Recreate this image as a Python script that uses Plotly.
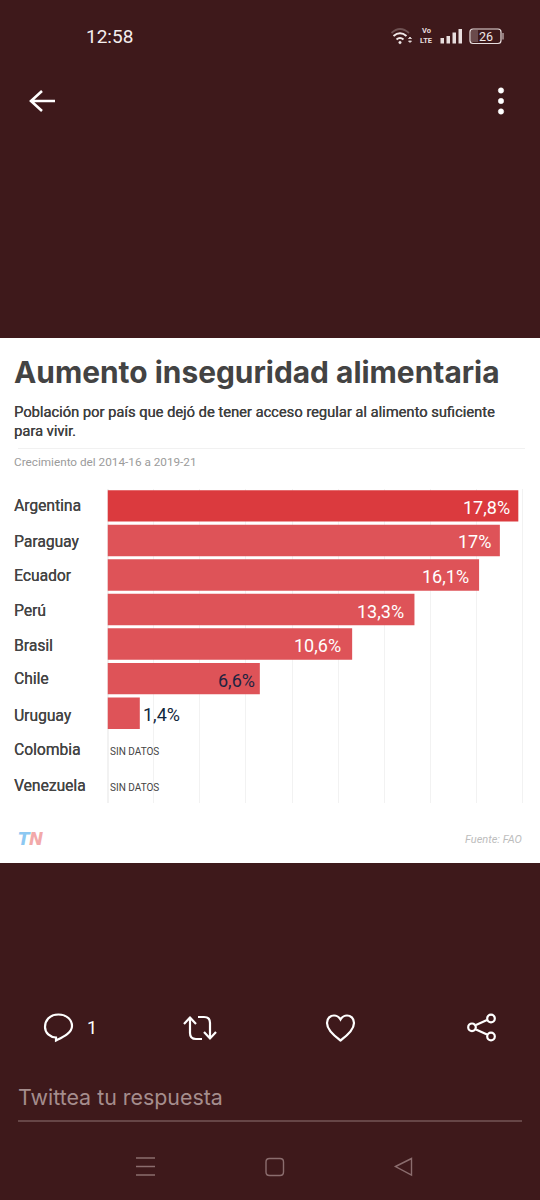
import plotly.graph_objects as go

countries = ['Argentina', 'Paraguay', 'Ecuador', 'Perú', 'Brasil', 'Chile', 'Uruguay', 'Colombia', 'Venezuela']
values = [17.8, 17, 16.1, 13.3, 10.6, 6.6, 1.4, None, None]
value_labels = ['17,8%', '17%', '16,1%', '13,3%', '10,6%', '6,6%', '1,4%', 'SIN DATOS', 'SIN DATOS']
bar_colors = ['#db3a3e', '#de5358', '#de5358', '#de5358', '#de5358', '#de5358', '#de5358', '#de5358', '#de5358']
label_colors = ['#ffffff', '#ffffff', '#ffffff', '#ffffff', '#ffffff', '#1d2340', '#10263c', '#444444', '#444444']

# small per-row offsets, the labels in the original don't sit exactly on the bar centres
label_dx = [-6.5, -6.5, -8, -8, -9, -3, 1, 0, 0]
label_dy = [1.5, 1.5, 1.5, 1.5, 1.5, 1.5, 1.5, 4, 5.5]
name_dy = [0.5, 1.5, 1.5, 1.5, 2, 0.5, 3, 2.5, 3.5]

BG = '#3e191b'
W, H = 540, 1200
X0_PX, PX_PER_UNIT = 107.5, 23.08

fig = go.Figure()

# bars on the second axis pair so they get drawn over the white card
fig.add_trace(go.Bar(y=countries, x=values, orientation='h', marker=dict(color=bar_colors, line_width=0),
                     xaxis='x2', yaxis='y2', width=0.91, hoverinfo='skip'))

shapes = []
notes = []


def text(x, y, s, size, color, anchor='left', family='Roboto', weight=400, style='normal', shadow=None):
    # annotations keep 2px of padding around the text
    if anchor == 'left':
        x -= 2
    elif anchor == 'right':
        x += 2
    notes.append(dict(x=x, y=y, xref='x', yref='y', text=s, showarrow=False, xanchor=anchor, yanchor='middle',
                      font=dict(family=family, size=size, color=color, weight=weight, style=style,
                                shadow=shadow or 'none')))


def path(d, color='#ffffff', width=2.2, fill=None):
    shapes.append(dict(type='path', xref='x', yref='y', path=d, line=dict(color=color, width=width),
                       fillcolor=fill, layer='above'))


def rect(x0, y0, x1, y1, fill, layer='above'):
    shapes.append(dict(type='rect', xref='x', yref='y', x0=x0, y0=y0, x1=x1, y1=y1, fillcolor=fill,
                       line_width=0, layer=layer))


def circle(cx, cy, r, fill=None, color='#ffffff', width=2.2):
    shapes.append(dict(type='circle', xref='x', yref='y', x0=cx - r, y0=cy - r, x1=cx + r, y1=cy + r,
                       fillcolor=fill, line=dict(color=color, width=width), layer='above'))


def round_rect(x0, y0, x1, y1, r):
    return (f'M{x0 + r},{y0} L{x1 - r},{y0} Q{x1},{y0} {x1},{y0 + r} L{x1},{y1 - r} Q{x1},{y1} {x1 - r},{y1} '
            f'L{x0 + r},{y1} Q{x0},{y1} {x0},{y1 - r} L{x0},{y0 + r} Q{x0},{y0} {x0 + r},{y0} Z')


# card
rect(0, 338, 540, 863, '#ffffff', layer='below')
shapes.append(dict(type='line', xref='x', yref='y', x0=18, x1=525, y0=448.5, y1=448.5,
                   line=dict(color='#f1f1f1', width=1), layer='below'))

# card texts
text(14, 372, 'Aumento inseguridad alimentaria', 29.9, '#434343', family='Inter', weight=700)
subtitle_shadow = '0.3px 0 0 #3f3f3f'
text(14, 412, 'Población por país que dejó de tener acceso regular al alimento suficiente', 14.7, '#3f3f3f',
     shadow=subtitle_shadow)
text(14, 431, 'para vivir.', 14.7, '#3f3f3f', shadow=subtitle_shadow)
text(14, 462, 'Crecimiento del 2014-16 a 2019-21', 11.75, '#9b9b9b')
text(522, 839, 'Fuente: FAO', 11, '#bdbdbd', anchor='right', style='italic')
text(18, 839, 'T', 17, '#8cc8f2', family='DejaVu Sans', weight=700, style='italic')
text(29, 839, 'N', 17, '#f2a9a9', family='DejaVu Sans', weight=700, style='italic')

# country names and value labels, placed against the chart's own axes
for i, c in enumerate(countries):
    notes.append(dict(x=12, y=c, xref='x', yref='y2', text=c, showarrow=False, xanchor='left', yanchor='middle',
                      yshift=-name_dy[i], font=dict(family='Roboto', size=15.6, color='#444444',
                                                    shadow='0.2px 0 0 #444444')))
    v = values[i]
    if v is None:
        notes.append(dict(x=0, y=c, xref='x2', yref='y2', text=value_labels[i], showarrow=False, xanchor='left',
                          yanchor='middle', xshift=label_dx[i], yshift=-label_dy[i],
                          font=dict(family='Roboto', size=10, color=label_colors[i])))
    else:
        notes.append(dict(x=v, y=c, xref='x2', yref='y2', text=value_labels[i], showarrow=False,
                          xanchor='left' if v < 3 else 'right', yanchor='middle',
                          xshift=label_dx[i], yshift=-label_dy[i],
                          font=dict(family='Roboto', size=18, color=label_colors[i])))

# status bar
text(86, 36, '12:58', 19, '#f4eeee')
path('M391.5,33 Q400,25 409,33', color='#6e5152', width=1.8)
path('M393.5,36 Q400,30.5 406.5,36', color='#f0e8e8', width=2)
path('M396.5,39.5 Q400,36.5 403.5,39.5', color='#f0e8e8', width=2)
circle(400, 42.5, 1.3, fill='#f0e8e8', color='#f0e8e8', width=0.5)
path('M408.5,38.5 L410,37 L411.5,38.5 Z M408.5,41 L410,42.5 L411.5,41 Z', color='#e8dede', width=0.8, fill='#e8dede')
text(426, 30.5, 'Vo', 7.5, '#e8dede', anchor='center', weight=700)
text(426, 40, 'LTE', 7.5, '#e8dede', anchor='center', weight=700)
for bx, top in [(440.5, 38), (446.5, 36), (452.5, 32.5), (458.5, 29)]:
    rect(bx, top, bx + 3.5, 43.5, '#e8dede')
rect(471, 30, 478, 42, '#6a4a4b')
path(round_rect(470, 29, 501, 43.5, 3), color='#e8dede', width=1.2)
rect(502.5, 33, 503.5, 39.5, '#e8dede')
text(485.5, 36.5, '26', 12.5, '#f0e8e8', anchor='center')

# top bar icons
path('M55,101 L31,101 M42,91 L31,101 L42,111', width=2.6)
for cy in [90.5, 101, 111.5]:
    circle(501, cy, 2.7, fill='#ffffff', width=0.5)

# tweet actions
path('M58.5,1014.5 C49,1014.5 45,1021 45,1027 C45,1033 50,1037 56,1037.5 L56,1040.5 '
     'C63,1037 72,1033 72,1026 C72,1020 67,1014.5 58.5,1014.5 Z')
text(87, 1027, '1', 18, '#ffffff')
path('M184,1024 L190,1017.5 L196,1024 M190,1018 L190,1033 Q190,1039 196,1039 L202,1039')
path('M198,1017 L204,1017 Q210,1017 210,1023 L210,1038 M204,1032 L210,1038.5 L216,1032')
path('M340.5,1040.5 C333,1035 327,1029 327,1023 C327,1018 330.5,1015.5 334,1015.5 C337,1015.5 339,1017 340.5,1019.5 '
     'C342,1017 344,1015.5 347,1015.5 C350.5,1015.5 354,1018 354,1023 C354,1029 348,1035 340.5,1040.5 Z')
path('M476,1025 L487,1020 M476,1029.5 L487,1034.5')
circle(491, 1018.5, 3.8)
circle(491, 1036.5, 3.8)
circle(472, 1027.3, 3.8)

# reply box and nav bar
text(18, 1097, 'Twittea tu respuesta', 21.4, '#a58d8d', family='Inter')
shapes.append(dict(type='line', xref='x', yref='y', x0=18, x1=522, y0=1121, y1=1121,
                   line=dict(color='#745657', width=1.3), layer='above'))
path('M136,1158 L155,1158 M136,1166.5 L155,1166.5 M136,1175 L155,1175', color='#8b6d6e', width=1.3)
path(round_rect(266, 1158.5, 283.5, 1175.5, 3.5), color='#8b6d6e', width=1.4)
path('M395.5,1166.5 L411.5,1158.5 L411.5,1175 Z', color='#8b6d6e', width=1.4)

x_right_px = 524
fig.update_layout(
    width=W, height=H, margin=dict(l=0, r=0, t=0, b=0, pad=0), autosize=False,
    paper_bgcolor=BG, plot_bgcolor='rgba(0,0,0,0)', showlegend=False, barmode='overlay',
    shapes=shapes, annotations=notes,
    # full-page pixel axes for the card and the phone chrome
    xaxis=dict(domain=[0, 1], range=[0, W], visible=False, fixedrange=True),
    yaxis=dict(domain=[0, 1], range=[H, 0], visible=False, fixedrange=True),
    # chart axes
    xaxis2=dict(domain=[X0_PX / W, x_right_px / W], range=[0, (x_right_px - X0_PX) / PX_PER_UNIT], dtick=2,
                anchor='y2', showgrid=True, gridcolor='#f2f2f2', gridwidth=1, zeroline=True,
                zerolinecolor='#f2f2f2', showticklabels=False, ticks='', showline=False),
    yaxis2=dict(domain=[1 - 803 / H, 1 - 488.6 / H], range=[8.6, -0.5], type='category', categoryorder='array',
                categoryarray=countries, anchor='x2', showgrid=False, zeroline=False, showticklabels=False, ticks=''),
)

fig.write_html('out.html', config={'displayModeBar': False},
               post_script="document.body.style.margin='0';document.body.style.background='" + BG + "';")
